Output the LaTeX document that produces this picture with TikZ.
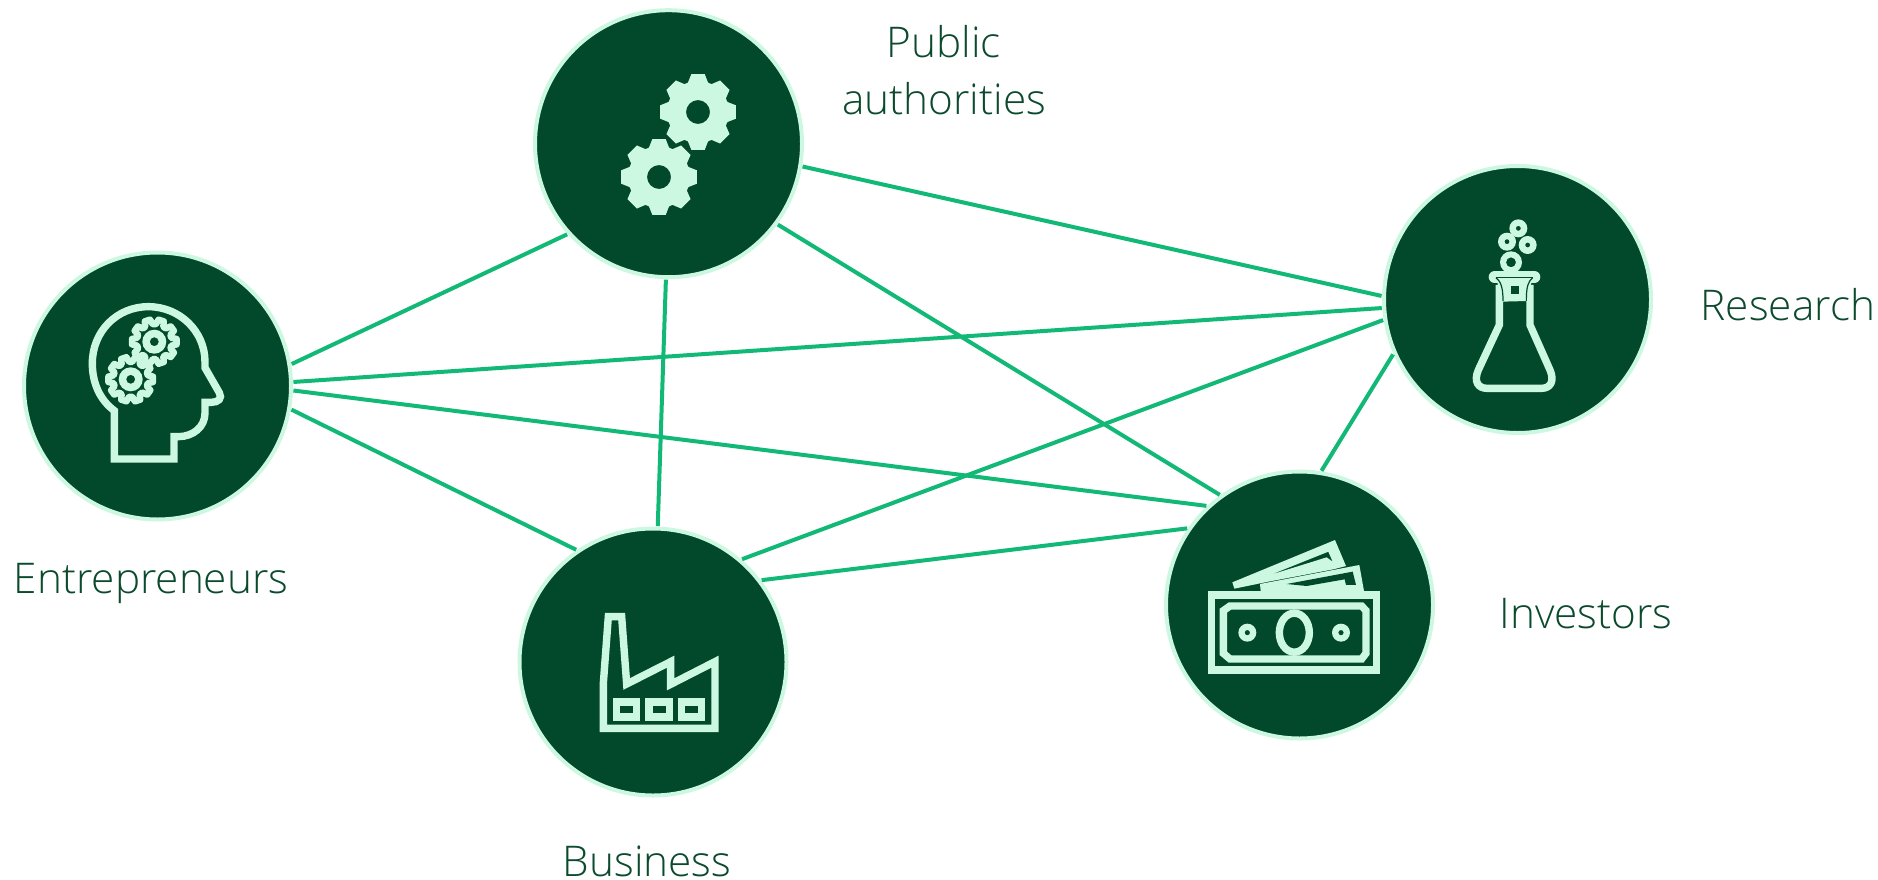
\documentclass[tikz,border=0pt]{standalone}
\usepackage{fontspec}
\setmainfont{Open Sans Light}
\definecolor{dark}{HTML}{02482A}
\definecolor{mint}{HTML}{CCF8E2}
\definecolor{link}{HTML}{12B976}
\definecolor{txt}{HTML}{0B4A2D}
\tikzset{
  hub/.style={circle,fill=dark,draw=mint,line width=4pt,minimum size=267pt,inner sep=0pt,outer sep=1.5pt},
  linkline/.style={draw=link,line width=4pt},
  lab/.style={text=txt,font=\fontsize{42.3}{57.5}\selectfont,inner sep=0pt},
  icon/.style={draw=mint,line width=7.4pt,miter limit=6},
}
\newcommand{\ep}[2]{([shift={(#2:136pt)}]#1.center)}
\begin{document}
\begin{tikzpicture}[x=1pt,y=-1pt]
\useasboundingbox (0,0) rectangle (1878,880);
\node[hub] (ent) at (157.5,386) {};
\node[hub] (pub) at (668.5,143.7) {};
\node[hub] (res) at (1517.5,299.5) {};
\node[hub] (inv) at (1299.5,605) {};
\node[hub] (bus) at (653,662) {};
\draw[linkline] \ep{ent}{9.3} -- \ep{pub}{221.8};
\draw[linkline] \ep{ent}{1.7} -- \ep{res}{183.6};
\draw[linkline] \ep{ent}{-1.9} -- \ep{inv}{133.2};
\draw[linkline] \ep{ent}{-10} -- \ep{bus}{124.4};
\draw[linkline] \ep{pub}{268.9} -- \ep{bus}{88};
\draw[linkline] \ep{pub}{-9.66} -- \ep{res}{178.5};
\draw[linkline] \ep{pub}{-36.5} -- \ep{inv}{125.9};
\draw[linkline] \ep{bus}{49.1} -- \ep{res}{188.7};
\draw[linkline] \ep{bus}{37} -- \ep{inv}{145.7};
\draw[linkline] \ep{inv}{80.7} -- \ep{res}{203.8};
\node[lab,align=center] (tpub) at (944,70) {Public\\authorities};
\node[lab,anchor=base] (tres) at (1788,320) {Research};
\node[lab,anchor=base] (tinv) at (1586,628) {Investors};
\node[lab,anchor=base] (tent) at (151,593) {Entrepreneurs};
\node[lab,anchor=base] (tbus) at (647,876) {Business};
% head icon
\begin{scope}[shift={(0,240)},x=0.3333pt,y=-0.3333pt]
\draw[icon] (343,657) -- (343,512) .. controls (300,480) and (277,430) .. (277,370)
 .. controls (277,275) and (350,200) .. (445,200) .. controls (540,200) and (615,275) .. (615,365)
 -- (615,383) -- (658,458) .. controls (668,475) and (655,487) .. (635,487) -- (615,487) -- (615,520)
 .. controls (615,560) and (580,590) .. (535,590) -- (522,590) -- (522,657) -- cycle;
\end{scope}
\foreach \cx/\cy in {154.3/341.7,130.7/379.3}{
 \draw[mint,line width=6.4pt,line join=round] ([shift={(\cx,\cy)}]-13:17.5)
  \foreach \a in {0,36,...,324}{ -- ([shift={(\cx,\cy)}]\a-13:17.5) -- ([shift={(\cx,\cy)}]\a-7:22.5) -- ([shift={(\cx,\cy)}]\a+7:22.5) -- ([shift={(\cx,\cy)}]\a+13:17.5)} -- cycle;
 \fill[mint,even odd rule] (\cx,\cy) circle (12) (\cx,\cy) circle (4.5);
}
% gears icon
\foreach \cx/\cy in {698/112,659/177}{
 \fill[mint,even odd rule] ([shift={(\cx,\cy)}]-19:31)
  \foreach \a in {0,45,...,315}{ -- ([shift={(\cx,\cy)}]\a-19:31) -- ([shift={(\cx,\cy)}]\a-10:38.5) -- ([shift={(\cx,\cy)}]\a+10:38.5) -- ([shift={(\cx,\cy)}]\a+19:31)} -- cycle (\cx,\cy) circle (12);
}
% flask icon
\begin{scope}[shift={(1440,200)},x=0.3333pt,y=-0.3333pt]
\draw[icon] (178,255) -- (178,375) -- (115,510) .. controls (100,545) and (115,565) .. (140,565) -- (305,565) .. controls (330,565) and (345,545) .. (330,510) -- (270,375) -- (270,255);
\draw[mint,line width=12pt,line cap=round] (164,231) -- (283,231);
\fill[mint] (168,231) -- (278,231) -- (262,303) -- (186,305) -- cycle;
\fill[dark] (212,257) rectangle (237,283);
\draw[dark,line width=1.2pt] (168,233) -- (278,233);
\draw[dark,line width=1.2pt] (168,233) .. controls (182,245) and (189,260) .. (189,303);
\draw[dark,line width=1.2pt] (278,233) .. controls (264,245) and (259,260) .. (259,303);
\fill[mint,even odd rule] (213,187) circle [radius=11pt] (213,187) circle [radius=5pt];
\fill[mint,even odd rule] (235,85) circle [radius=9pt] (235,85) circle [radius=2.5pt];
\fill[mint,even odd rule] (201,125) circle [radius=9pt] (201,125) circle [radius=2.5pt];
\fill[mint,even odd rule] (263,135) circle [radius=9pt] (263,135) circle [radius=2.5pt];
\end{scope}
% money icon
\begin{scope}[shift={(1190,520)},x=0.3333pt,y=-0.3333pt]
\fill[mint,even odd rule] (127,187) -- (435,60) -- (468,138) -- (430,148) -- (235,185) -- (133,206) -- cycle (240,165) -- (415,95) -- (428,125) -- (410,112) -- cycle;
\fill[mint] (210,192) -- (508,135) -- (522,213) -- (212,213) -- cycle;
\fill[dark] (290,192) -- (488,155) -- (498,195) -- (468,195) -- (464,178) -- (350,198) -- cycle;
\draw[icon] (65,225) rectangle (560,450);
\draw[icon] (100,272) -- (120,258) -- (515,258) -- (528,272) -- (528,400) -- (515,417) -- (120,417) -- (100,400) -- cycle;
\draw[icon] (313,338) ellipse [x radius=15pt,y radius=19.5pt];
\fill[mint,even odd rule] (172,338) circle [radius=9pt] (172,338) circle [radius=2.7pt];
\fill[mint,even odd rule] (453,338) circle [radius=9pt] (453,338) circle [radius=2.7pt];
\end{scope}
% factory icon
\begin{scope}[shift={(580,590)},x=0.3333pt,y=-0.3333pt]
\draw[icon] (70,415) -- (70,280) -- (85,80) -- (125,80) -- (140,282) -- (272,215) -- (272,283) -- (405,215) -- (405,415) -- cycle;
\draw[icon] (109,336) rectangle (170,381);
\draw[icon] (207,336) rectangle (268,381);
\draw[icon] (304,336) rectangle (365,381);
\end{scope}
\end{tikzpicture}
\end{document}
